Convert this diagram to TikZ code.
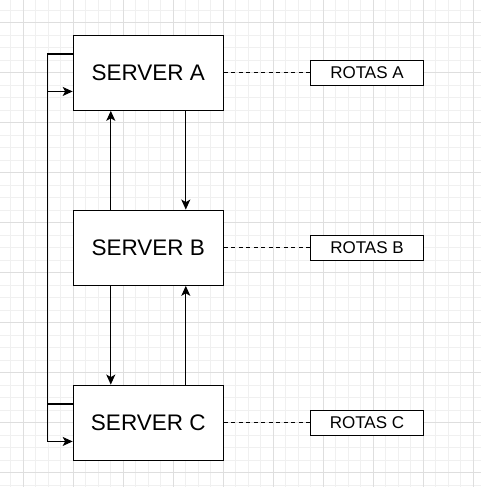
\documentclass[tikz,border=0pt]{standalone}
\usepackage{fontspec}
\setmainfont{Liberation Sans}
\usetikzlibrary{arrows.meta}
\tikzset{
  gridminor/.style={draw=black!6, line width=0.8pt},
  gridmajor/.style={draw=black!13, line width=0.8pt},
  server/.style={draw=black, fill=white, line width=1.25pt, minimum width=150pt, minimum height=75pt, inner sep=0pt, font=\fontsize{22.5}{27}\selectfont},
  rotas/.style={draw=black, fill=white, line width=1.25pt, minimum width=112.5pt, minimum height=25pt, inner sep=0pt, font=\fontsize{17}{20}\selectfont},
  conn/.style={draw=black, line width=1.25pt, -{Stealth[length=10pt,width=9pt,inset=2.5pt]}},
  dashconn/.style={draw=black, line width=1.25pt, dash pattern=on 3.75pt off 3.75pt},
}
\begin{document}
\begin{tikzpicture}[x=1pt,y=-1pt]
\useasboundingbox (0,0) rectangle (481,487);
\fill[white] (0,0) rectangle (481,487);
\begin{scope}
\clip (0,0) rectangle (481,487);
\foreach \i in {0,...,38} {
  \draw[gridminor] ({10.8+12.5*\i},0) -- ({10.8+12.5*\i},487);
  \draw[gridminor] (0,{10.2+12.5*\i}) -- (481,{10.2+12.5*\i});
}
\foreach \i in {0,...,9} {
  \draw[gridmajor] ({23.3+50*\i},0) -- ({23.3+50*\i},487);
  \draw[gridmajor] (0,{22.7+50*\i}) -- (481,{22.7+50*\i});
}
\end{scope}

\node[server] (sa) at (148.3,72.7) {SERVER A};
\node[server] (sb) at (148.3,247.7) {SERVER B};
\node[server] (sc) at (148.3,422.7) {SERVER C};

\node[rotas] (ra) at (367,72.7) {ROTAS A};
\node[rotas] (rb) at (367,247.7) {ROTAS B};
\node[rotas] (rc) at (367,422.7) {ROTAS C};

\draw[conn] ([xshift=37.5pt]sa.south) -- ([xshift=37.5pt]sb.north);
\draw[conn] ([xshift=-37.5pt]sb.north) -- ([xshift=-37.5pt]sa.south);
\draw[conn] ([xshift=-37.5pt]sb.south) -- ([xshift=-37.5pt]sc.north);
\draw[conn] ([xshift=37.5pt]sc.north) -- ([xshift=37.5pt]sb.south);

\draw[conn] ([yshift=18.75pt]sa.west) -- ++(-25.5,0) |- ([yshift=-18.75pt]sc.west);
\draw[conn] ([yshift=18.75pt]sc.west) -- ++(-25.5,0) |- ([yshift=-18.75pt]sa.west);

\draw[dashconn] (sa.east) -- (ra.west);
\draw[dashconn] (sb.east) -- (rb.west);
\draw[dashconn] (sc.east) -- (rc.west);
\end{tikzpicture}
\end{document}
